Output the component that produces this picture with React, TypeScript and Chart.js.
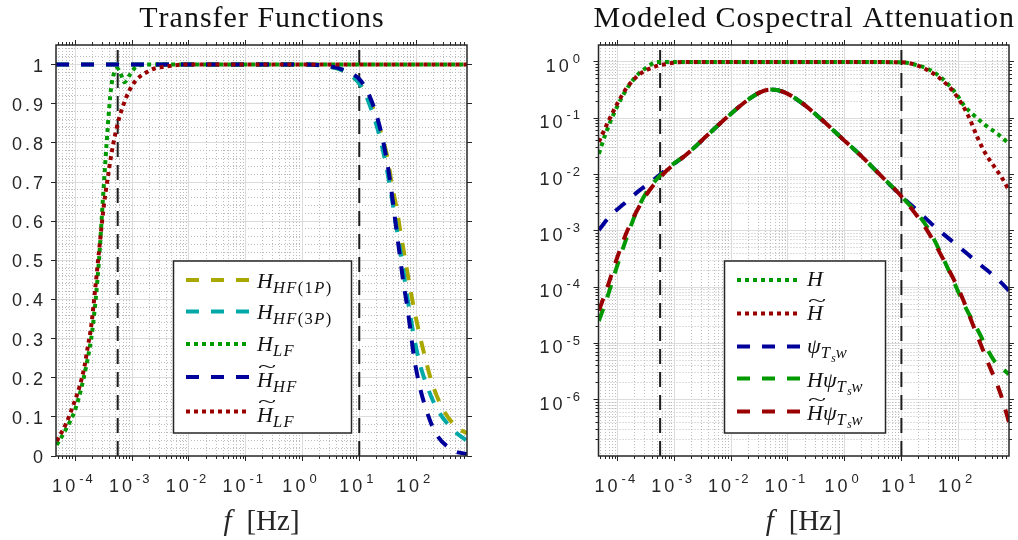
import { useEffect, useRef } from "react";
import { Chart, registerables } from "chart.js";

Chart.register(...registerables);

// ---------- fonts & colours ----------
const SERIF = '"Liberation Serif", "DejaVu Serif", serif';
const SANS = '"Liberation Sans", Arial, sans-serif';
const INK = "#262626";
const MAJOR_GRID = "#dcdcdc";
const MINOR_GRID = "#bcbcbc";

const OLIVE = "#a8a800";
const TEAL = "#00a8a8";
const GREEN = "#009a00";
const NAVY = "#00009a";
const DARK_RED = "#9a0000";
const MARKER = "#1c1c1c";

const DASH = [13, 12];
const DOT = [4, 4];
const LINE_W = 4;

// ---------- axes ----------
const F_MIN = 4.55e-5;
const F_MAX = 790;
const xTickExponents = [-4, -3, -2, -1, 0, 1, 2];
// block-averaging period (30 min) and sampling frequency
const markerFreqs = [1 / 1800, 10];

const Y_LIN_MAX = 1.05;
const yTicksLinear = [0, 0.1, 0.2, 0.3, 0.4, 0.5, 0.6, 0.7, 0.8, 0.9, 1];
const yTickLabelsLinear = ["0", "0.1", "0.2", "0.3", "0.4", "0.5", "0.6", "0.7", "0.8", "0.9", "1"];

const Y_LOG_MIN = 1e-7;
const Y_LOG_MAX = 2;
const yTickExponents = [-6, -5, -4, -3, -2, -1, 0];

// ---------- transfer functions (left panel) ----------
const fHf1p = [4.55e-5, 1, 2.5, 5.6, 11.0, 17.6, 24.8, 31.6, 37.2, 45.6, 53.6, 63.8, 76.0, 91.9, 112.6, 143.6, 188, 283, 505, 790];
const hHf1p = [1, 1, 0.996, 0.982, 0.945, 0.888, 0.82, 0.76, 0.696, 0.632, 0.569, 0.505, 0.441, 0.377, 0.317, 0.253, 0.19, 0.126, 0.075, 0.058];

const fHf3p = [4.55e-5, 1, 2.5, 5.6, 11.0, 16.5, 22.5, 28.4, 34.7, 40.8, 48.6, 57.2, 66.4, 78.2, 91.9, 114, 158, 231, 442, 790];
const hHf3p = [1, 1, 0.996, 0.982, 0.943, 0.883, 0.82, 0.756, 0.688, 0.624, 0.556, 0.492, 0.428, 0.364, 0.305, 0.241, 0.177, 0.122, 0.068, 0.038];

const fLf = [4.69e-5, 6.67e-5, 1.03e-4, 1.54e-4, 2.02e-4, 2.57e-4, 3.11e-4, 3.71e-4, 4.25e-4, 4.86e-4, 5.49e-4, 6.2e-4, 7.29e-4, 8.93e-4, 1.17e-3, 2.01e-3, 790];
const hLf = [0.028, 0.066, 0.126, 0.228, 0.33, 0.49, 0.675, 0.84, 0.94, 0.981, 0.99, 0.978, 0.955, 0.972, 0.994, 1, 1];

const fHfTilde = [4.55e-5, 1, 2.5, 5.6, 11.0, 17.6, 23.8, 29.5, 34.7, 39.7, 45.6, 52.1, 59.6, 70.0, 80.4, 91.9, 112.6, 145.3, 215, 442, 790];
const hHfTilde = [1, 1, 0.997, 0.985, 0.956, 0.896, 0.832, 0.768, 0.705, 0.641, 0.573, 0.509, 0.445, 0.381, 0.317, 0.254, 0.186, 0.126, 0.062, 0.015, 0.005];

const fLfTilde = [4.69e-5, 6.86e-5, 8.96e-5, 1.18e-4, 1.44e-4, 1.65e-4, 1.89e-4, 2.25e-4, 2.65e-4, 3.15e-4, 3.97e-4, 4.54e-4, 5.21e-4, 5.96e-4, 7.29e-4, 8.93e-4, 1.17e-3, 1.64e-3, 2.46e-3, 3.95e-3, 8.3e-3, 790];
const hLfTilde = [0.038, 0.083, 0.126, 0.177, 0.228, 0.279, 0.33, 0.432, 0.534, 0.636, 0.739, 0.79, 0.832, 0.866, 0.904, 0.934, 0.96, 0.977, 0.99, 0.995, 1, 1];

// ---------- cospectral attenuation (right panel) ----------
const fH = [4.62e-5, 6.07e-5, 8.49e-5, 1.28e-4, 2.05e-4, 3.3e-4, 4.95e-4, 1e-3, 1, 10, 19.0, 32.7, 52.5, 73.8, 96.8, 126.5, 190, 305, 491, 789];
const vH = [0.0234, 0.0532, 0.121, 0.274, 0.541, 0.815, 1, 1, 1, 0.985, 0.873, 0.711, 0.507, 0.359, 0.255, 0.17, 0.113, 0.0748, 0.0532, 0.0353];

const fHTilde = [4.62e-5, 6.5e-5, 9.77e-5, 1.47e-4, 2.51e-4, 4.32e-4, 7.43e-4, 1.46e-3, 1, 10, 19.0, 32.7, 52.5, 78.9, 110.7, 154.9, 218.3, 305.5, 428.5, 602.6, 789];
const vHTilde = [0.038, 0.0802, 0.182, 0.359, 0.622, 0.815, 0.933, 1, 1, 0.985, 0.871, 0.664, 0.472, 0.313, 0.194, 0.105, 0.0462, 0.0234, 0.0141, 0.00851, 0.00521];

const fPsi = [4.62e-5, 7.43e-5, 1.28e-4, 2.2e-4, 3.78e-4, 7.43e-4, 1.675e-3, 3.77e-3, 8.49e-3, 0.0191, 0.0329, 0.0493, 0.0847, 0.167, 0.376, 0.847, 1.905, 4.3, 9.68, 19.05, 42.95, 96.8, 218.3, 490.9, 789];
const vPsi = [1.04e-3, 1.87e-3, 3.02e-3, 4.86e-3, 7.33e-3, 0.0127, 0.0234, 0.0497, 0.105, 0.208, 0.292, 0.323, 0.292, 0.194, 0.0984, 0.0462, 0.0219, 0.00964, 0.00425, 2.29e-3, 1.08e-3, 5.5e-4, 2.76e-4, 1.4e-4, 8.7e-5];

const fHPsi = [4.62e-5, 6.5e-5, 9.12e-5, 1.37e-4, 2.05e-4, 3.08e-4, 4.62e-4, 7.43e-4, 1.675e-3, 3.77e-3, 8.49e-3, 0.0191, 0.0329, 0.0493, 0.0847, 0.167, 0.376, 0.847, 1.905, 4.3, 9.68, 28.6, 64.6, 126.5, 218.3, 428.5, 789];
const vHPsi = [2.51e-5, 6.61e-5, 1.96e-4, 6.71e-4, 2.0e-3, 4.55e-3, 7.85e-3, 0.0127, 0.0234, 0.0497, 0.105, 0.208, 0.292, 0.323, 0.292, 0.194, 0.0984, 0.0462, 0.0219, 0.00964, 0.00425, 1.16e-3, 2.25e-4, 5.01e-5, 1.78e-5, 5.01e-6, 2.82e-6];

const fHTildePsi = [4.62e-5, 6.5e-5, 9.77e-5, 1.47e-4, 2.34e-4, 3.78e-4, 5.66e-4, 7.43e-4, 1.675e-3, 3.77e-3, 8.49e-3, 0.0191, 0.0329, 0.0493, 0.0847, 0.167, 0.376, 0.847, 1.905, 4.3, 9.68, 28.6, 56.2, 110.7, 190.1, 327.3, 562.3, 789];
const vHTildePsi = [3.82e-5, 9.91e-5, 3.39e-4, 1.01e-3, 2.63e-3, 5.58e-3, 8.99e-3, 0.012, 0.0234, 0.0497, 0.105, 0.208, 0.292, 0.323, 0.292, 0.194, 0.0984, 0.0462, 0.0219, 0.00964, 0.00425, 1.01e-3, 2.97e-4, 7.59e-5, 1.93e-5, 4.9e-6, 1.26e-6, 3.98e-7];

// ---------- math-ish text runs ----------
type Run = { t: string; size: number; it?: boolean; dy?: number; sp?: number; tilde?: boolean };
const M = 22;
const S = 16.5;
const SS = 11.5;
const sub = (t: string, it = true): Run => ({ t, size: S, it, dy: 5, sp: 1.4 });

const labelHF1P: Run[] = [{ t: "H", size: M, it: true }, sub("HF"), sub("(1", false), sub("P"), sub(")", false)];
const labelHF3P: Run[] = [{ t: "H", size: M, it: true }, sub("HF"), sub("(3", false), sub("P"), sub(")", false)];
const labelLF: Run[] = [{ t: "H", size: M, it: true }, sub("LF")];
const labelHFTilde: Run[] = [{ t: "H", size: M, it: true, tilde: true }, sub("HF")];
const labelLFTilde: Run[] = [{ t: "H", size: M, it: true, tilde: true }, sub("LF")];
const psiSub: Run[] = [sub("T"), { t: "s", size: SS, it: true, dy: 8.5 }, { t: "w", size: S, it: true, dy: 5 }];
const labelH: Run[] = [{ t: "H", size: M, it: true }];
const labelHTilde: Run[] = [{ t: "H", size: M, it: true, tilde: true }];
const labelPsi: Run[] = [{ t: "ψ", size: M, it: true }, ...psiSub];
const labelHPsi: Run[] = [{ t: "H", size: M, it: true }, { t: "ψ", size: M, it: true }, ...psiSub];
const labelHTildePsi: Run[] = [{ t: "H", size: M, it: true, tilde: true }, { t: "ψ", size: M, it: true }, ...psiSub];

// ---------- helpers ----------
const crisp = (p: number) => Math.round(p - 0.5) + 0.5;

function logMajors(lo: number, hi: number) {
  const out: number[] = [];
  for (let e = Math.floor(Math.log10(lo)); e <= Math.ceil(Math.log10(hi)); e++) {
    const v = 10 ** e;
    if (v > lo && v < hi) out.push(v);
  }
  return out;
}
function logMinors(lo: number, hi: number) {
  const out: number[] = [];
  for (let e = Math.floor(Math.log10(lo)); e <= Math.ceil(Math.log10(hi)); e++) {
    for (let m = 2; m <= 9; m++) {
      const v = m * 10 ** e;
      if (v > lo && v < hi) out.push(v);
    }
  }
  return out;
}
function linearMinors() {
  const out: number[] = [];
  for (let k = 1; k * 0.02 < Y_LIN_MAX; k++) if (k % 5 !== 0) out.push(k * 0.02);
  return out;
}

function spacedWidth(ctx: CanvasRenderingContext2D, t: string, sp: number) {
  const chars = [...t];
  let w = 0;
  for (const ch of chars) w += ctx.measureText(ch).width;
  return w + sp * (chars.length - 1);
}
function fillSpaced(ctx: CanvasRenderingContext2D, t: string, x: number, y: number, sp: number) {
  let cx = x;
  const chars = [...t];
  chars.forEach((ch, i) => {
    ctx.fillText(ch, cx, y);
    cx += ctx.measureText(ch).width + (i < chars.length - 1 ? sp : 0);
  });
  return cx - x;
}

// wide, flat tilde accent made from a stretched "~" glyph
function drawTilde(ctx: CanvasRenderingContext2D, cx: number, cy: number, w: number, size: number) {
  ctx.save();
  ctx.font = `${size * 0.8}px ${SERIF}`;
  const m = ctx.measureText("~");
  const inkW = m.actualBoundingBoxRight + m.actualBoundingBoxLeft || size * 0.4;
  const midX = (m.actualBoundingBoxRight - m.actualBoundingBoxLeft) / 2;
  const midY = (m.actualBoundingBoxDescent - m.actualBoundingBoxAscent) / 2;
  ctx.translate(cx, cy);
  ctx.scale(w / inkW, 0.95);
  ctx.fillText("~", -midX, -midY);
  ctx.restore();
}

function drawRuns(ctx: CanvasRenderingContext2D, runs: Run[], x: number, y: number) {
  let cx = x;
  for (const r of runs) {
    ctx.font = `${r.it ? "italic " : ""}${r.size}px ${SERIF}`;
    const w = fillSpaced(ctx, r.t, cx, y + (r.dy ?? 0), r.sp ?? 0);
    if (r.tilde) drawTilde(ctx, cx + w / 2 + r.size * 0.12, y - r.size * 0.66 - 5, w * 1.2, r.size);
    cx += w + (r.sp ?? 0);
  }
}

// "10" with a raised exponent
function drawPow10(ctx: CanvasRenderingContext2D, e: number, x: number, baseY: number, mode: "center" | "right") {
  const base = "10";
  const exp = String(e);
  ctx.font = `18px ${SANS}`;
  const wb = spacedWidth(ctx, base, 3);
  ctx.font = `13px ${SANS}`;
  const we = spacedWidth(ctx, exp, 2);
  const gap = 4;
  const total = wb + gap + we;
  const x0 = mode === "center" ? x - total / 2 : x - total;
  ctx.font = `18px ${SANS}`;
  fillSpaced(ctx, base, x0, baseY, 3);
  ctx.font = `13px ${SANS}`;
  fillSpaced(ctx, exp, x0 + wb + gap, baseY - 8.8, 2);
}

// ---------- panel decoration plugin ----------
type LegendItem = { color: string; dash: number[]; label: Run[]; rowY: number; baseY: number };
type PanelCfg = {
  title: string;
  yLog: boolean;
  legend: { x: number; y: number; w: number; h: number; sx0: number; sx1: number; tx: number; items: LegendItem[] };
};

function makePanelPlugin(cfg: PanelCfg) {
  return {
    id: "panelDecor",
    beforeDatasetsDraw(chart: any) {
      const { ctx, chartArea: a, scales } = chart;
      const xs = scales.x;
      const ys = scales.y;
      const xMajor = logMajors(F_MIN, F_MAX);
      const xMinor = logMinors(F_MIN, F_MAX);
      const yMajor = cfg.yLog ? logMajors(Y_LOG_MIN, Y_LOG_MAX) : yTicksLinear.filter((v) => v > 0 && v < Y_LIN_MAX);
      const yMinor = cfg.yLog ? logMinors(Y_LOG_MIN, Y_LOG_MAX) : linearMinors();
      ctx.save();
      ctx.lineWidth = 1;
      ctx.strokeStyle = MINOR_GRID;
      ctx.setLineDash([1, 2]);
      ctx.beginPath();
      for (const v of xMinor) {
        const p = crisp(xs.getPixelForValue(v));
        ctx.moveTo(p, a.top);
        ctx.lineTo(p, a.bottom);
      }
      for (const v of yMinor) {
        const p = crisp(ys.getPixelForValue(v));
        ctx.moveTo(a.left, p);
        ctx.lineTo(a.right, p);
      }
      ctx.stroke();
      ctx.setLineDash([]);
      ctx.strokeStyle = MAJOR_GRID;
      ctx.beginPath();
      for (const v of xMajor) {
        const p = crisp(xs.getPixelForValue(v));
        ctx.moveTo(p, a.top);
        ctx.lineTo(p, a.bottom);
      }
      for (const v of yMajor) {
        const p = crisp(ys.getPixelForValue(v));
        ctx.moveTo(a.left, p);
        ctx.lineTo(a.right, p);
      }
      ctx.stroke();
      ctx.restore();
    },
    afterDatasetsDraw(chart: any) {
      const { ctx, chartArea: a, scales } = chart;
      const xs = scales.x;
      const ys = scales.y;
      ctx.save();
      // ticks (outward) and box
      ctx.strokeStyle = INK;
      ctx.lineWidth = 1;
      ctx.beginPath();
      const xMajor = xTickExponents.map((e) => 10 ** e);
      for (const v of xMajor) {
        const p = crisp(xs.getPixelForValue(v));
        ctx.moveTo(p, a.bottom);
        ctx.lineTo(p, a.bottom + 5);
        ctx.moveTo(p, a.top);
        ctx.lineTo(p, a.top - 5);
      }
      for (const v of logMinors(F_MIN, F_MAX)) {
        const p = crisp(xs.getPixelForValue(v));
        ctx.moveTo(p, a.bottom);
        ctx.lineTo(p, a.bottom + 3);
        ctx.moveTo(p, a.top);
        ctx.lineTo(p, a.top - 3);
      }
      const yMajor = cfg.yLog ? yTickExponents.map((e) => 10 ** e) : yTicksLinear;
      for (const v of yMajor) {
        const p = crisp(ys.getPixelForValue(v));
        ctx.moveTo(a.left, p);
        ctx.lineTo(a.left - 5, p);
        ctx.moveTo(a.right, p);
        ctx.lineTo(a.right + 5, p);
      }
      if (cfg.yLog) {
        for (const v of logMinors(Y_LOG_MIN, Y_LOG_MAX)) {
          const p = crisp(ys.getPixelForValue(v));
          ctx.moveTo(a.left, p);
          ctx.lineTo(a.left - 3, p);
          ctx.moveTo(a.right, p);
          ctx.lineTo(a.right + 3, p);
        }
      }
      ctx.stroke();
      ctx.lineWidth = 1.5;
      ctx.strokeRect(a.left, a.top, a.right - a.left, a.bottom - a.top);

      // tick labels
      ctx.fillStyle = INK;
      ctx.textBaseline = "alphabetic";
      ctx.textAlign = "left";
      for (const e of xTickExponents) {
        const p = xs.getPixelForValue(10 ** e);
        drawPow10(ctx, e, p - 3, a.bottom + 36, "center");
      }
      if (cfg.yLog) {
        for (const e of yTickExponents) {
          const p = ys.getPixelForValue(10 ** e);
          drawPow10(ctx, e, a.left - 18.5, p + 10, "right");
        }
      } else {
        ctx.font = `18px ${SANS}`;
        yTicksLinear.forEach((v, i) => {
          const p = ys.getPixelForValue(v);
          const t = yTickLabelsLinear[i];
          const w = spacedWidth(ctx, t, 3);
          fillSpaced(ctx, t, a.left - 13 - w, p + 7, 3);
        });
      }

      // title
      const cx = (a.left + a.right) / 2;
      ctx.fillStyle = "#111";
      ctx.font = `30px ${SERIF}`;
      const tw = spacedWidth(ctx, cfg.title, 1);
      fillSpaced(ctx, cfg.title, cx - tw / 2, 27, 1);

      // x label: f [Hz]
      ctx.fillStyle = INK;
      ctx.font = `italic 29px ${SERIF}`;
      const wf = ctx.measureText("f").width;
      ctx.font = `29px ${SERIF}`;
      const wu = ctx.measureText("[Hz]").width;
      const gap = 15;
      const lx = cx - (wf + gap + wu) / 2;
      ctx.font = `italic 29px ${SERIF}`;
      ctx.fillText("f", lx, 530);
      ctx.font = `29px ${SERIF}`;
      ctx.fillText("[Hz]", lx + wf + gap, 530);

      // legend
      const L = cfg.legend;
      ctx.fillStyle = "#fff";
      ctx.fillRect(L.x, L.y, L.w, L.h);
      ctx.strokeStyle = INK;
      ctx.lineWidth = 1.5;
      ctx.strokeRect(L.x, L.y, L.w, L.h);
      for (const it of L.items) {
        ctx.strokeStyle = it.color;
        ctx.lineWidth = LINE_W;
        ctx.lineCap = "butt";
        ctx.setLineDash(it.dash);
        ctx.beginPath();
        ctx.moveTo(L.sx0, it.rowY);
        ctx.lineTo(L.sx1, it.rowY);
        ctx.stroke();
        ctx.setLineDash([]);
        ctx.fillStyle = "#111";
        drawRuns(ctx, it.label, L.tx, it.baseY);
      }
      ctx.restore();
    },
  };
}

// ---------- datasets ----------
function series(f: number[], v: number[], color: string, dash: number[], order: number) {
  return {
    data: f.map((x, i) => ({ x, y: v[i] })),
    borderColor: color,
    borderWidth: LINE_W,
    borderDash: dash,
    borderCapStyle: "butt" as const,
    pointRadius: 0,
    fill: false,
    cubicInterpolationMode: "monotone" as const,
    order,
    clip: 0,
  };
}
function marker(f: number, lo: number, hi: number) {
  return {
    data: [
      { x: f, y: lo },
      { x: f, y: hi },
    ],
    borderColor: MARKER,
    borderWidth: 2,
    borderDash: [15, 8],
    pointRadius: 0,
    tension: 0,
    fill: false,
    order: 20,
    clip: 0,
  };
}

function baseOptions(area: { left: number; top: number; right: number; bottom: number }, yScale: any) {
  return {
    responsive: false,
    animation: false as const,
    devicePixelRatio: 1,
    events: [],
    layout: { padding: { left: area.left, top: area.top, right: 1018 - area.right, bottom: 540 - area.bottom } },
    plugins: { legend: { display: false }, tooltip: { enabled: false }, title: { display: false } },
    scales: {
      x: { type: "logarithmic" as const, min: F_MIN, max: F_MAX, display: false },
      y: { ...yScale, display: false },
    },
  };
}

const LEFT_AREA = { left: 56, top: 45, right: 467, bottom: 456 };
const RIGHT_AREA = { left: 598.5, top: 45, right: 1009, bottom: 456 };

function leftConfig(): any {
  const cfg: PanelCfg = {
    title: "Transfer Functions",
    yLog: false,
    legend: {
      x: 173.5, y: 261, w: 178, h: 172, sx0: 186, sx1: 249.5, tx: 257,
      items: [
        { color: OLIVE, dash: DASH, label: labelHF1P, rowY: 280, baseY: 287.5 },
        { color: TEAL, dash: DASH, label: labelHF3P, rowY: 311.5, baseY: 318.5 },
        { color: GREEN, dash: DOT, label: labelLF, rowY: 344, baseY: 350.5 },
        { color: NAVY, dash: DASH, label: labelHFTilde, rowY: 377, baseY: 386.5 },
        { color: DARK_RED, dash: DOT, label: labelLFTilde, rowY: 411.5, baseY: 421.5 },
      ],
    },
  };
  return {
    type: "line",
    data: {
      datasets: [
        ...markerFreqs.map((f) => marker(f, 0, Y_LIN_MAX)),
        series(fHf1p, hHf1p, OLIVE, DASH, 5),
        series(fHf3p, hHf3p, TEAL, DASH, 4),
        series(fLf, hLf, GREEN, DOT, 3),
        series(fHfTilde, hHfTilde, NAVY, DASH, 2),
        series(fLfTilde, hLfTilde, DARK_RED, DOT, 1),
      ],
    },
    options: baseOptions(LEFT_AREA, { type: "linear", min: 0, max: Y_LIN_MAX }),
    plugins: [makePanelPlugin(cfg)],
  };
}

function rightConfig(): any {
  const cfg: PanelCfg = {
    title: "Modeled Cospectral Attenuation",
    yLog: true,
    legend: {
      x: 724.5, y: 261, w: 161, h: 172, sx0: 737, sx1: 800, tx: 807,
      items: [
        { color: GREEN, dash: DOT, label: labelH, rowY: 280, baseY: 286 },
        { color: DARK_RED, dash: DOT, label: labelHTilde, rowY: 313.5, baseY: 320 },
        { color: NAVY, dash: DASH, label: labelPsi, rowY: 346.5, baseY: 353 },
        { color: GREEN, dash: DASH, label: labelHPsi, rowY: 378.5, baseY: 386.5 },
        { color: DARK_RED, dash: DASH, label: labelHTildePsi, rowY: 411.5, baseY: 419.5 },
      ],
    },
  };
  return {
    type: "line",
    data: {
      datasets: [
        ...markerFreqs.map((f) => marker(f, Y_LOG_MIN, Y_LOG_MAX)),
        series(fH, vH, GREEN, DOT, 5),
        series(fHTilde, vHTilde, DARK_RED, DOT, 4),
        series(fPsi, vPsi, NAVY, DASH, 3),
        series(fHPsi, vHPsi, GREEN, DASH, 2),
        series(fHTildePsi, vHTildePsi, DARK_RED, DASH, 1),
      ],
    },
    options: baseOptions(RIGHT_AREA, { type: "logarithmic", min: Y_LOG_MIN, max: Y_LOG_MAX }),
    plugins: [makePanelPlugin(cfg)],
  };
}

export default function App() {
  const leftRef = useRef<HTMLCanvasElement>(null);
  const rightRef = useRef<HTMLCanvasElement>(null);
  useEffect(() => {
    const c1 = new Chart(leftRef.current as HTMLCanvasElement, leftConfig());
    const c2 = new Chart(rightRef.current as HTMLCanvasElement, rightConfig());
    return () => {
      c1.destroy();
      c2.destroy();
    };
  }, []);
  const canvasStyle = { position: "absolute" as const, left: 0, top: 0, width: 1018, height: 540 };
  return (
    <div style={{ position: "fixed", left: 0, top: 0, width: 1018, height: 540, background: "#fff", overflow: "hidden" }}>
      <canvas ref={leftRef} width={1018} height={540} style={canvasStyle} />
      <canvas ref={rightRef} width={1018} height={540} style={canvasStyle} />
    </div>
  );
}
